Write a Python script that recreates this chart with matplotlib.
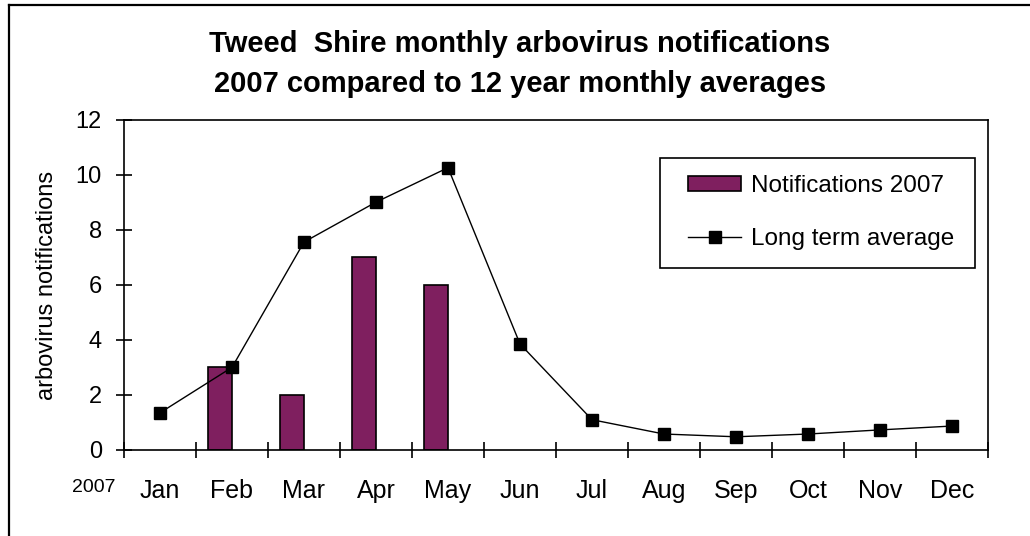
#Tweed Shire monthly arbovirus notifications, 2007 vs long term average
import numpy as np
from matplotlib import pyplot as plt
from matplotlib.lines import Line2D
from matplotlib.patches import Rectangle

plt.rcParams['font.family'] = ['Liberation Sans', 'DejaVu Sans']

# data
months = ["Jan", "Feb", "Mar", "Apr", "May", "Jun",
          "Jul", "Aug", "Sep", "Oct", "Nov", "Dec"]
notif_2007 = [np.nan, 3, 2, 7, 6, np.nan, np.nan, np.nan, np.nan, np.nan, np.nan, np.nan]
long_term_avg = [1.35, 3.0, 7.55, 9.0, 10.25, 3.85, 1.1, 0.58, 0.48, 0.58, 0.73, 0.87]
yticks = [0, 2, 4, 6, 8, 10, 12]

W, H = 1030, 536
fig = plt.figure(figsize=(W/100, H/100), dpi=100)
ax = fig.add_axes([124/W, 1-450/H, 864/W, 330.5/H])

x = np.arange(len(months))
# bars sit left of the category centre (Excel clustered layout)
bars = ax.bar(x - 1/6, notif_2007, width=1/3, color='#7f1f5f', edgecolor='black',
              linewidth=1.2, label='Notifications 2007', zorder=2)
line, = ax.plot(x, long_term_avg, color='black', linewidth=1, marker='s', markersize=8,
                label='Long term average', zorder=3)

ax.set_xlim(-0.5, 11.5)
ax.set_ylim(0, 12)
ax.set_yticks(yticks)
ax.tick_params(axis='y', direction='inout', length=12, width=1.2, pad=10, labelsize=17)
# ticks on category boundaries, labels at centres
ax.set_xticks(np.arange(-0.5, 12, 1))
ax.set_xticklabels([])
ax.set_xticks(x, minor=True)
ax.set_xticklabels(months, minor=True)
ax.tick_params(axis='x', which='major', direction='inout', length=11, width=1.2)
ax.tick_params(axis='x', which='minor', length=0, pad=21, labelsize=18)
for s in ax.spines.values():
    s.set_linewidth(1.2)

# legend with a separate frame
leg = ax.legend([bars, line], ['Notifications 2007', 'Long term average'],
                loc='upper left', bbox_to_anchor=((688-124)/864, (450-175)/330.5),
                frameon=False, fontsize=17.5, borderpad=0, borderaxespad=0,
                handlelength=2.2, handletextpad=0.4, labelspacing=1.28,
                numpoints=1, handleheight=0.55)
ax.add_patch(Rectangle(((660-124)/864, (450-268)/330.5), (975-660)/864, 110/330.5,
                       transform=ax.transAxes, fill=False, edgecolor='black',
                       linewidth=1.2, zorder=4))

fig.text(520/W, 1-51.7/H, "Tweed  Shire monthly arbovirus notifications",
         ha='center', va='baseline', fontsize=21, fontweight='bold')
fig.text(520/W, 1-91.7/H, "2007 compared to 12 year monthly averages",
         ha='center', va='baseline', fontsize=21, fontweight='bold')
fig.text(47/W, 1-285/H, "arbovirus notifications", rotation=90,
         ha='center', va='center', fontsize=17)
fig.text(94/W, 1-487/H, "2007", ha='center', va='center', fontsize=14)

# outer chart frame (top and left edges visible)
fig.add_artist(Line2D([9/W, 1.0], [1-5/H, 1-5/H], transform=fig.transFigure,
                      color='black', linewidth=1.6))
fig.add_artist(Line2D([9/W, 9/W], [0, 1-5/H], transform=fig.transFigure,
                      color='black', linewidth=1.6))

plt.savefig('out.png', dpi=100)
